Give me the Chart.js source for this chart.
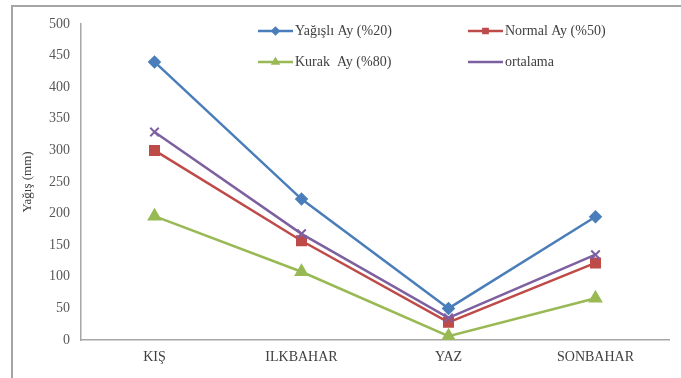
<!DOCTYPE html>
<html>
<head>
<meta charset="utf-8">
<script src="https://cdn.jsdelivr.net/npm/chart.js@4"></script>
<style>
  html, body { margin: 0; padding: 0; background: #ffffff; }
  #wrap { width: 681px; height: 378px; position: relative; }
</style>
</head>
<body>
<div id="wrap"><canvas id="c" width="681" height="378"></canvas></div>
<script>
// Seasons on the category axis
const seasons = ['KIŞ', 'ILKBAHAR', 'YAZ', 'SONBAHAR'];

// Seasonal precipitation (mm)
const wetMonth = [440, 223, 50, 195];     // Yağışlı Ay (%20)
const normalMonth = [300, 157, 28, 122];  // Normal Ay (%50)
const dryMonth = [196, 108, 6, 66];       // Kurak Ay (%80)
const meanValues = [329, 168, 35, 135];   // ortalama

// Y axis tick values
const yTicks = [0, 50, 100, 150, 200, 250, 300, 350, 400, 450, 500];

const serif = '"Liberation Serif", "DejaVu Serif", serif';

// Outer frame: top and left edges of the chart box
const framePlugin = {
  id: 'frame',
  beforeDraw(chart) {
    const ctx = chart.ctx;
    ctx.save();
    ctx.strokeStyle = '#a5a5a5';
    ctx.lineWidth = 2;
    ctx.beginPath();
    ctx.moveTo(12, 378);
    ctx.lineTo(12, 6);
    ctx.lineTo(681, 6);
    ctx.stroke();
    ctx.restore();
  }
};

// Two-column legend inside the plot area
const legendPlugin = {
  id: 'gridLegend',
  afterDraw(chart) {
    const ctx = chart.ctx;
    const slots = [
      { x: 258, y: 31 },
      { x: 468, y: 31 },
      { x: 258, y: 62 },
      { x: 468, y: 62 }
    ];
    chart.data.datasets.forEach((ds, i) => {
      const s = slots[i];
      const len = 35;
      ctx.save();
      ctx.strokeStyle = ds.borderColor;
      ctx.lineWidth = 2.5;
      ctx.beginPath();
      ctx.moveTo(s.x, s.y);
      ctx.lineTo(s.x + len, s.y);
      ctx.stroke();
      if (ds.pointStyle !== 'crossRot') {
        ctx.fillStyle = ds.pointBackgroundColor;
        ctx.strokeStyle = ds.pointBorderColor;
        Chart.helpers.drawPoint(ctx, {
          pointStyle: ds.pointStyle, radius: 3, rotation: 0, borderWidth: 1
        }, s.x + len / 2, s.y);
      }
      ctx.fillStyle = '#404040';
      ctx.font = '14px ' + serif;
      ctx.textBaseline = 'middle';
      ctx.textAlign = 'left';
      ctx.fillText(ds.label, s.x + len + 2, s.y);
      ctx.restore();
    });
  }
};

new Chart(document.getElementById('c'), {
  type: 'line',
  data: {
    labels: seasons,
    datasets: [
      {
        label: 'Yağışlı Ay (%20)',
        data: wetMonth,
        borderColor: '#4a7ebb',
        backgroundColor: '#4a7ebb',
        pointBackgroundColor: '#4a7ebb',
        pointBorderColor: '#4a7ebb',
        pointStyle: 'rectRot',
        pointRadius: 5,
        borderWidth: 2.5,
        order: 3
      },
      {
        label: 'Normal Ay (%50)',
        data: normalMonth,
        borderColor: '#be4b48',
        backgroundColor: '#be4b48',
        pointBackgroundColor: '#be4b48',
        pointBorderColor: '#be4b48',
        pointStyle: 'rect',
        pointRadius: 6,
        borderWidth: 2.5,
        order: 2
      },
      {
        label: 'Kurak  Ay (%80)',
        data: dryMonth,
        borderColor: '#98b954',
        backgroundColor: '#98b954',
        pointBackgroundColor: '#98b954',
        pointBorderColor: '#98b954',
        pointStyle: 'triangle',
        pointRadius: 6,
        borderWidth: 2.5,
        order: 1
      },
      {
        label: 'ortalama',
        data: meanValues,
        borderColor: '#7d60a0',
        backgroundColor: '#7d60a0',
        pointBackgroundColor: '#7d60a0',
        pointBorderColor: '#7d60a0',
        pointStyle: 'crossRot',
        pointRadius: 6,
        pointBorderWidth: 2,
        borderWidth: 2.5,
        order: 0
      }
    ]
  },
  options: {
    responsive: false,
    animation: false,
    layout: { padding: { top: 24, right: 12, left: 0, bottom: 0 } },
    plugins: {
      legend: { display: false },
      tooltip: { enabled: false }
    },
    scales: {
      x: {
        offset: true,
        grid: { display: false, drawTicks: false },
        border: { display: true, color: '#a6a6a6', width: 1.5 },
        ticks: {
          color: '#404040',
          font: { family: serif, size: 14 },
          padding: 9,
          maxRotation: 0
        },
        afterFit(scale) { scale.height = 38; }
      },
      y: {
        min: 0,
        max: 500,
        afterBuildTicks(scale) { scale.ticks = yTicks.map(v => ({ value: v })); },
        grid: { display: false, drawTicks: false },
        border: { display: true, color: '#a6a6a6', width: 1.5 },
        ticks: {
          color: '#595959',
          font: { family: serif, size: 14 },
          padding: 11
        },
        title: {
          display: true,
          text: 'Yağış (mm)',
          color: '#404040',
          font: { family: serif, size: 13 },
          padding: { top: 20, bottom: 0 }
        },
        afterFit(scale) { scale.width = 81; }
      }
    }
  },
  plugins: [framePlugin, legendPlugin]
});
</script>
</body>
</html>
